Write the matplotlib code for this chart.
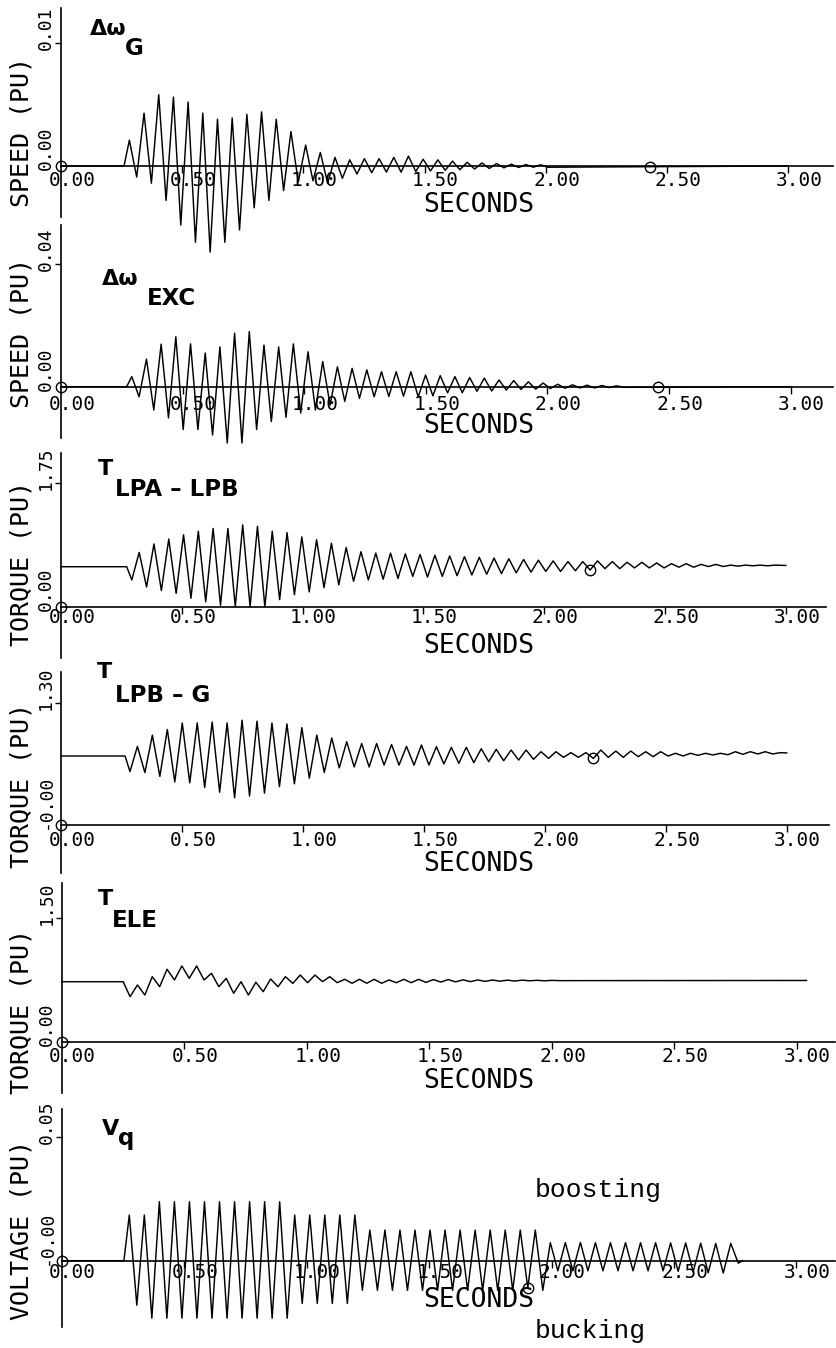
import numpy as np
import matplotlib
matplotlib.use('Agg')
import matplotlib.pyplot as plt

# ---------------------------------------------------------------------------
# Time axis
# ---------------------------------------------------------------------------
SEC_TICKS = [0.0, 0.5, 1.0, 1.5, 2.0, 2.5, 3.0]
SEC_LABELS = ["0.00", "0.50", "1.00", "1.50", "2.00", "2.50", "3.00"]

# ---------------------------------------------------------------------------
# Traces: each one is a flat pre-fault value, then successive peaks/troughs
# (alternating) spaced half an oscillation period apart.
# ---------------------------------------------------------------------------
# generator speed deviation (pu)
dwg_onset, dwg_base, dwg_first, dwg_period = 0.26, 0.0, 0.282, 0.0606
dwg_ext = np.array([
    2.1, -0.9, 4.3, -1.4, 5.8, -2.8, 5.6, -4.8, 5.2, -6.2, 4.3, -7.0,
    3.8, -6.2, 3.9, -5.2, 4.2, -3.4, 4.4, -2.8, 3.8, -2.0, 2.8, -1.3,
    1.7, -1.2, 1.1, -1.4, 0.7, -1.0, 0.5, -0.65, 0.6, -0.55, 0.6, -0.5,
    0.7, -0.5, 0.8, -0.45, 0.55, -0.4, 0.5, -0.35, 0.4, -0.3, 0.3, -0.25,
    0.25, -0.2, 0.2, -0.15, 0.15, -0.12, 0.12, -0.1, 0.1, -0.1]) * 1e-3
dwg_end = (3.0, 0.0)
dwg_cursor = 2.43

# exciter speed deviation (pu)
dwx_onset, dwx_base, dwx_first, dwx_period = 0.27, 0.0, 0.291, 0.0604
dwx_ext = np.array([
    3.3, -3.3, 9.0, -7.6, 13.9, -10.2, 16.3, -14.0, 14.0, -14.0, 11.0, -15.8,
    13.0, -18.4, 17.5, -18.4, 18.0, -14.0, 13.6, -11.4, 13.0, -10.0, 14.0, -8.6,
    11.4, -7.6, 8.2, -6.0, 6.5, -4.8, 6.0, -3.8, 5.5, -3.3, 4.9, -3.2,
    4.9, -3.1, 4.9, -3.3, 3.8, -3.0, 3.6, -2.0, 3.3, -2.0, 3.0, -1.5,
    2.8, -1.4, 2.2, -1.1, 2.0, -0.9, 1.6, -0.8, 1.2, -0.6, 0.8, -0.5,
    0.6, -0.4, 0.5, -0.4, 0.4, -0.3, 0.3, -0.2]) * 1e-3
dwx_end = (3.0, 0.0)
dwx_cursor = 2.455

# shaft torque LPA-LPB (pu)
tab_onset, tab_base, tab_first, tab_period = 0.272, 0.567, 0.293, 0.0612
tab_ext = np.array([
    0.38, 0.77, 0.28, 0.89, 0.23, 0.96, 0.19, 1.02, 0.12, 1.07, 0.07, 1.11,
    0.02, 1.11, 0.00, 1.16, 0.00, 1.14, 0.00, 1.07, 0.10, 1.05, 0.17, 0.99,
    0.21, 0.95, 0.27, 0.90, 0.31, 0.84, 0.36, 0.78, 0.38, 0.76, 0.39, 0.76,
    0.40, 0.75, 0.43,
    0.74, 0.42, 0.73, 0.43, 0.72, 0.44, 0.71, 0.45, 0.70, 0.46, 0.69, 0.47,
    0.68, 0.48, 0.67, 0.49, 0.66, 0.50, 0.65, 0.50, 0.64, 0.51, 0.64, 0.52,
    0.65, 0.54, 0.64, 0.54, 0.63, 0.55, 0.63, 0.55, 0.62, 0.55, 0.61, 0.56,
    0.61, 0.56, 0.60, 0.57, 0.60, 0.57, 0.59, 0.575, 0.59, 0.58, 0.59, 0.58,
    0.59])
tab_end = (3.0, 0.585)
tab_cursor = 2.19

# shaft torque LPB-G (pu)
tbg_onset, tbg_base, tbg_first, tbg_period = 0.265, 0.737, 0.285, 0.0618
tbg_ext = np.array([
    0.57, 0.84, 0.56, 0.96, 0.52, 1.02, 0.46, 1.09, 0.45, 1.09, 0.40, 1.10,
    0.35, 1.09, 0.29, 1.12, 0.31, 1.11, 0.34, 1.09, 0.41, 1.08, 0.44, 1.04,
    0.50, 0.96, 0.56, 0.93, 0.61, 0.89, 0.62, 0.87, 0.62, 0.87, 0.64, 0.86,
    0.64, 0.84, 0.64,
    0.855, 0.641, 0.837, 0.652, 0.83, 0.659, 0.83, 0.666, 0.815, 0.677,
    0.808, 0.687, 0.801, 0.694, 0.801, 0.702, 0.783, 0.712, 0.783, 0.723,
    0.773, 0.723, 0.773, 0.712,
    0.801, 0.723, 0.79, 0.723, 0.79, 0.73, 0.783, 0.73, 0.783, 0.737,
    0.766, 0.737, 0.766, 0.744, 0.766, 0.748, 0.766, 0.751, 0.783, 0.755,
    0.783, 0.759, 0.783, 0.759, 0.773])
tbg_end = (3.0, 0.77)
tbg_cursor = 2.20

# electrical torque (pu)
tel_onset, tel_base, tel_first, tel_period = 0.251, 0.729, 0.279, 0.0604
tel_ext = np.array([
    0.547, 0.689, 0.567, 0.79, 0.668, 0.88, 0.75, 0.92, 0.77, 0.92, 0.75, 0.831,
    0.668, 0.77, 0.588, 0.729, 0.567, 0.722, 0.608, 0.762, 0.668, 0.79, 0.709,
    0.81, 0.717, 0.81, 0.73, 0.79, 0.717, 0.758, 0.71, 0.758, 0.71, 0.758,
    0.71, 0.75, 0.717, 0.758, 0.717,
    0.758, 0.72, 0.755, 0.725, 0.755, 0.727, 0.752, 0.73, 0.75, 0.733,
    0.75, 0.735, 0.748, 0.737, 0.748, 0.74, 0.746, 0.74, 0.745, 0.742])
tel_end = (3.04, 0.744)
tel_cursor = None

# q-axis voltage (pu)
vq_onset, vq_base, vq_first, vq_period = 0.254, 0.0, 0.276, 0.0614
vq_ext = np.array([
    18.5, -18.0, 18.5, -23.3,
    23.9, -23.3, 23.9, -23.3, 23.9, -23.3, 23.9, -23.3, 23.9, -23.3,
    23.9, -23.3, 23.9, -23.3, 23.9, -23.3, 23.9, -23.3,
    18.5, -17.3, 18.5, -17.3, 18.5, -17.3, 18.5, -17.3, 18.5, -12.0,
    12.4, -12.0, 12.4, -12.0, 12.4, -12.0, 12.4, -12.0, 12.4, -12.0,
    12.4, -12.0, 12.4, -12.0, 12.4, -12.0, 12.4, -12.0, 12.4, -12.0,
    12.4, -11.0, 12.4, -12.0,
    7.3, -4.1, 7.3, -4.1, 7.4, -4.1, 7.3, -4.1, 7.3, -4.1, 7.3, -4.1,
    7.3, -4.1, 7.3, -4.1, 7.2, -4.3, 7.2, -4.5, 7.1, -4.9, 7.0, -5.0,
    7.0, -1.0]) * 1e-3
vq_end = (2.78, 0.0)
vq_cursor = 1.903

# axis annotations
TOP_VALUES = [0.01, 0.04, 1.75, 1.30, 1.50, 0.05]
TOP_TEXT = ["0.01", "0.04", "1.75", "1.30", "1.50", "0.05"]
ZERO_TEXT = ["0.00", "0.00", "0.00", "-0.00", "0.00", "-0.00"]
YLABELS = ["SPEED (PU)", "SPEED (PU)", "TORQUE (PU)", "TORQUE (PU)",
           "TORQUE (PU)", "VOLTAGE (PU)"]


def build_trace(onset, base, first, period, ext, end):
    """Flat lead-in followed by the listed extrema at half-period spacing."""
    t_ext = first + np.arange(len(ext)) * period / 2.0
    t = np.concatenate([[0.0, onset], t_ext, [end[0]]])
    v = np.concatenate([[base, base], ext, [end[1]]])
    return t, v


TRACES = [
    (build_trace(dwg_onset, dwg_base, dwg_first, dwg_period, dwg_ext, dwg_end), dwg_cursor),
    (build_trace(dwx_onset, dwx_base, dwx_first, dwx_period, dwx_ext, dwx_end), dwx_cursor),
    (build_trace(tab_onset, tab_base, tab_first, tab_period, tab_ext, tab_end), tab_cursor),
    (build_trace(tbg_onset, tbg_base, tbg_first, tbg_period, tbg_ext, tbg_end), tbg_cursor),
    (build_trace(tel_onset, tel_base, tel_first, tel_period, tel_ext, tel_end), tel_cursor),
    (build_trace(vq_onset, vq_base, vq_first, vq_period, vq_ext, vq_end), vq_cursor),
]

# ---------------------------------------------------------------------------
# Page layout in pixels (y measured from the top of the page)
# x0: time origin, pxs: pixels per second, zero: row of the zero line,
# upx: pixels per unit, top/bot: extent of the vertical axis, xend: end of
# the time axis, ylab: centre of the axis title, drop: tick-label drop
# ---------------------------------------------------------------------------
W, H = 836, 1348
LAYOUT = [
    dict(x0=61.0, pxs=242.4, zero=166.0, upx=12300.0, top=8, bot=217, xend=833, ylab=132, drop=15),
    dict(x0=61.0, pxs=243.2, zero=386.7, upx=3060.0, top=225, bot=438, xend=833, ylab=333, drop=18),
    dict(x0=61.0, pxs=241.6, zero=606.7, upx=70.5, top=453, bot=658, xend=826, ylab=563, drop=11),
    dict(x0=61.0, pxs=241.9, zero=825.0, upx=93.6, top=672, bot=873, xend=829, ylab=785, drop=16),
    dict(x0=61.7, pxs=245.0, zero=1041.7, upx=82.3, top=883, bot=1093, xend=835, ylab=1011, drop=15),
    dict(x0=61.7, pxs=244.9, zero=1260.7, upx=2468.0, top=1109, bot=1327, xend=835, ylab=1230, drop=12),
]

# titles: (main text, x, baseline), (subscript text, x, baseline)
TITLES = [
    (("\u0394\u03c9", 90, 35), ("G", 125, 55)),
    (("\u0394\u03c9", 102, 285), ("EXC", 147, 305)),
    (("T", 98, 475), ("LPA \u2013 LPB", 115, 496)),
    (("T", 97, 678), ("LPB \u2013 G", 115, 702)),
    (("T", 98, 905), ("ELE", 112, 927)),
    (("V", 102, 1135), ("q", 118, 1145)),
]

PLOT_FONT = "DejaVu Sans Mono"
plt.rcParams['font.family'] = PLOT_FONT

fig = plt.figure(figsize=(W / 100, H / 100), dpi=100)


def fx(px):
    return px / W


def fy(py):
    return 1.0 - py / H


for i, lay in enumerate(LAYOUT):
    (t, v), cursor = TRACES[i]
    x0, pxs, zero, upx = lay['x0'], lay['pxs'], lay['zero'], lay['upx']

    ax = fig.add_axes([fx(x0), 0.0, 1.0 - fx(x0), 1.0])
    ax.set_xlim(0, (W - x0) / pxs)
    ax.set_ylim((zero - H) / upx, zero / upx)
    ax.patch.set_visible(False)
    ax.spines['top'].set_visible(False)
    ax.spines['right'].set_visible(False)
    ax.spines['left'].set_bounds((zero - lay['bot']) / upx, (zero - lay['top']) / upx)
    ax.spines['bottom'].set_position(('data', 0.0))
    ax.spines['bottom'].set_bounds(0.0, (lay['xend'] - x0) / pxs)
    for s in ('left', 'bottom'):
        ax.spines[s].set_linewidth(1.2)

    ax.set_xticks(SEC_TICKS[1:])
    ax.set_yticks([TOP_VALUES[i]])
    ax.tick_params(axis='x', direction='out', length=5, width=1.0, labelbottom=False)
    ax.tick_params(axis='y', direction='out', length=4, width=1.0, labelleft=False)

    # time tick labels sit a little right of their ticks
    for tk, lbl in zip(SEC_TICKS, SEC_LABELS):
        ax.annotate(lbl, xy=(tk, 0.0), xytext=(11, -lay['drop']),
                    textcoords='offset pixels', ha='center', va='center',
                    fontsize=14, annotation_clip=False)
    ax.annotate("SECONDS", xy=((479 - x0) / pxs, 0.0), xytext=(0, -39),
                textcoords='offset pixels', ha='center', va='center',
                fontsize=19, annotation_clip=False)

    # rotated value labels along the vertical axis
    ax.annotate(TOP_TEXT[i], xy=(0.0, TOP_VALUES[i]), xytext=(-15, -7),
                textcoords='offset pixels', ha='center', va='bottom',
                rotation=90, fontsize=13, annotation_clip=False)
    ax.annotate(ZERO_TEXT[i], xy=(0.0, 0.0), xytext=(-15, -4),
                textcoords='offset pixels', ha='center', va='bottom',
                rotation=90, fontsize=13, annotation_clip=False)

    ax.plot(t, v, color='black', lw=1.05, clip_on=False, zorder=3,
            solid_joinstyle='round')
    ax.plot([0.0], [0.0], marker='o', ms=7.5, mfc='none', mec='black',
            mew=1.0, clip_on=False, zorder=4)
    if cursor is not None:
        ax.plot([cursor], [np.interp(cursor, t, v)], marker='o', ms=7.5,
                mfc='none', mec='black', mew=1.0, clip_on=False, zorder=4)

    fig.text(fx(22), fy(lay['ylab']), YLABELS[i], rotation=90,
             ha='center', va='center', fontsize=18)

    (main, mx, my), (sub, sx, sy) = TITLES[i]
    fig.text(fx(mx), fy(my), main, family='DejaVu Sans', weight='bold',
             fontsize=16, va='baseline')
    fig.text(fx(sx), fy(sy), sub, family='DejaVu Sans', weight='bold',
             fontsize=16.5, va='baseline')

fig.text(fx(535), fy(1197), "boosting", family='Liberation Mono',
         fontsize=19, va='baseline')
fig.text(fx(535), fy(1338), "bucking", family='Liberation Mono',
         fontsize=19, va='baseline')

fig.savefig("out.png", dpi=100, facecolor='white')
